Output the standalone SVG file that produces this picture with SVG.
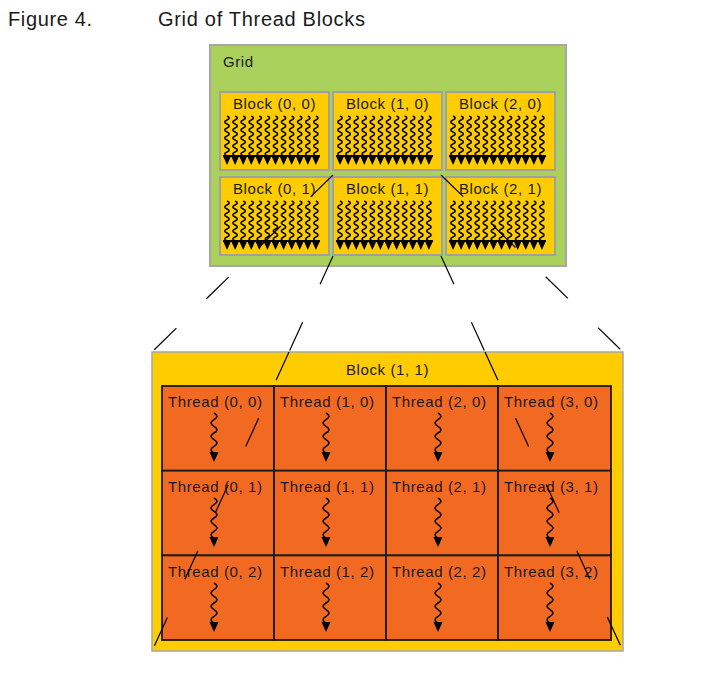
<svg xmlns="http://www.w3.org/2000/svg" width="710" height="676" viewBox="0 0 710 676">
<style>
.title{font-family:"Liberation Sans",Arial,sans-serif;font-size:20px;fill:#1a1a1a}
.lbl{font-family:"Liberation Sans",Arial,sans-serif;font-size:15px;fill:#1a1a1a;letter-spacing:0.6px}
.grid{fill:#a9d15b;stroke:#a6a6a6;stroke-width:2}
.blk{fill:#ffcc00;stroke:#a0a0a0;stroke-width:2}
.big{fill:#ffcc00;stroke:#a6a6a6;stroke-width:1.5}
.cell{fill:#f26922;stroke:#1a1a1a;stroke-width:1.8}
.conn{stroke:#000;stroke-width:1.2;stroke-dasharray:31 42;fill:none}
</style>
<defs>
<path id="sq" d="M0,0 q4.5,2 0,4 t0,4 t0,4 t0,4 t0,4 t0,4 t0,4 t0,4 t0,4 t0,4" fill="none" stroke="#000" stroke-width="1.5"/>
<g id="threads">
<use href="#sq" x="8"/><use href="#sq" x="16.08"/><use href="#sq" x="24.16"/><use href="#sq" x="32.24"/>
<use href="#sq" x="40.32"/><use href="#sq" x="48.4"/><use href="#sq" x="56.48"/><use href="#sq" x="64.56"/>
<use href="#sq" x="72.64"/><use href="#sq" x="80.72"/><use href="#sq" x="88.8"/><use href="#sq" x="96.88"/>
<rect x="4" y="39" width="97" height="2" fill="#000"/>
<path d="M4,40 l4.04,9 4.04,-9 4.04,9 4.04,-9 4.04,9 4.04,-9 4.04,9 4.04,-9 4.04,9 4.04,-9 4.04,9 4.04,-9 4.04,9 4.04,-9 4.04,9 4.04,-9 4.04,9 4.04,-9 4.04,9 4.04,-9 4.04,9 4.04,-9 4.04,9 4.04,-9 z" fill="#000"/>
</g>
<g id="tarr">
<path d="M0,0 q6,3.33 0,6.67 t0,6.67 t0,6.67 t0,6.67 t0,6.67 t0,6.67" fill="none" stroke="#000" stroke-width="1.5"/>
<path d="M-4.5,39 h9 l-4.5,10 z" fill="#000"/>
</g>
</defs>

<g id="title">
<text class="title" x="8" y="26" textLength="84" lengthAdjust="spacing">Figure 4.</text>
<text class="title" x="158" y="26" textLength="207" lengthAdjust="spacing">Grid of Thread Blocks</text>
</g>

<g id="grid">
<rect class="grid" x="210" y="45" width="356" height="221"/>
<text class="lbl" x="223" y="67">Grid</text>
</g>

<g id="block-0-0"><rect class="blk" x="220" y="92" width="109" height="78"/><text class="lbl" x="274.5" y="109" text-anchor="middle">Block (0, 0)</text><use href="#threads" x="219" y="116"/></g>
<g id="block-1-0"><rect class="blk" x="333" y="92" width="109" height="78"/><text class="lbl" x="387.5" y="109" text-anchor="middle">Block (1, 0)</text><use href="#threads" x="332" y="116"/></g>
<g id="block-2-0"><rect class="blk" x="446" y="92" width="109" height="78"/><text class="lbl" x="500.5" y="109" text-anchor="middle">Block (2, 0)</text><use href="#threads" x="445" y="116"/></g>
<g id="block-0-1"><rect class="blk" x="220" y="177" width="109" height="78"/><text class="lbl" x="274.5" y="194" text-anchor="middle">Block (0, 1)</text><use href="#threads" x="219" y="201"/></g>
<g id="block-1-1"><rect class="blk" x="333" y="177" width="109" height="78"/><text class="lbl" x="387.5" y="194" text-anchor="middle">Block (1, 1)</text><use href="#threads" x="332" y="201"/></g>
<g id="block-2-1"><rect class="blk" x="446" y="177" width="109" height="78"/><text class="lbl" x="500.5" y="194" text-anchor="middle">Block (2, 1)</text><use href="#threads" x="445" y="201"/></g>

<g id="block-1-1-detail">
<rect class="big" x="152" y="352" width="471" height="299"/>
<text class="lbl" x="387.5" y="375" text-anchor="middle">Block (1, 1)</text>
</g>

<g id="thread-0-0"><rect class="cell" x="162" y="386" width="112" height="84.7"/><text class="lbl" x="168" y="407">Thread (0, 0)</text><use href="#tarr" x="214" y="413"/></g>
<g id="thread-1-0"><rect class="cell" x="274" y="386" width="112" height="84.7"/><text class="lbl" x="280" y="407">Thread (1, 0)</text><use href="#tarr" x="326" y="413"/></g>
<g id="thread-2-0"><rect class="cell" x="386" y="386" width="112" height="84.7"/><text class="lbl" x="392" y="407">Thread (2, 0)</text><use href="#tarr" x="438" y="413"/></g>
<g id="thread-3-0"><rect class="cell" x="498" y="386" width="113" height="84.7"/><text class="lbl" x="504" y="407">Thread (3, 0)</text><use href="#tarr" x="550" y="413"/></g>
<g id="thread-0-1"><rect class="cell" x="162" y="470.7" width="112" height="84.7"/><text class="lbl" x="168" y="492">Thread (0, 1)</text><use href="#tarr" x="214" y="498"/></g>
<g id="thread-1-1"><rect class="cell" x="274" y="470.7" width="112" height="84.7"/><text class="lbl" x="280" y="492">Thread (1, 1)</text><use href="#tarr" x="326" y="498"/></g>
<g id="thread-2-1"><rect class="cell" x="386" y="470.7" width="112" height="84.7"/><text class="lbl" x="392" y="492">Thread (2, 1)</text><use href="#tarr" x="438" y="498"/></g>
<g id="thread-3-1"><rect class="cell" x="498" y="470.7" width="113" height="84.7"/><text class="lbl" x="504" y="492">Thread (3, 1)</text><use href="#tarr" x="550" y="498"/></g>
<g id="thread-0-2"><rect class="cell" x="162" y="555.4" width="112" height="84.6"/><text class="lbl" x="168" y="577">Thread (0, 2)</text><use href="#tarr" x="214" y="583"/></g>
<g id="thread-1-2"><rect class="cell" x="274" y="555.4" width="112" height="84.6"/><text class="lbl" x="280" y="577">Thread (1, 2)</text><use href="#tarr" x="326" y="583"/></g>
<g id="thread-2-2"><rect class="cell" x="386" y="555.4" width="112" height="84.6"/><text class="lbl" x="392" y="577">Thread (2, 2)</text><use href="#tarr" x="438" y="583"/></g>
<g id="thread-3-2"><rect class="cell" x="498" y="555.4" width="113" height="84.6"/><text class="lbl" x="504" y="577">Thread (3, 2)</text><use href="#tarr" x="550" y="583"/></g>

<g id="connectors">
<line class="conn" x1="333" y1="175" x2="152" y2="352"/>
<line class="conn" x1="333" y1="256" x2="289" y2="352"/>
<line class="conn" x1="289" y1="352" x2="152" y2="651"/>
<line class="conn" x1="441" y1="175" x2="623" y2="352"/>
<line class="conn" x1="441" y1="256" x2="485" y2="352"/>
<line class="conn" x1="485" y1="352" x2="623" y2="651"/>
</g>
</svg>
